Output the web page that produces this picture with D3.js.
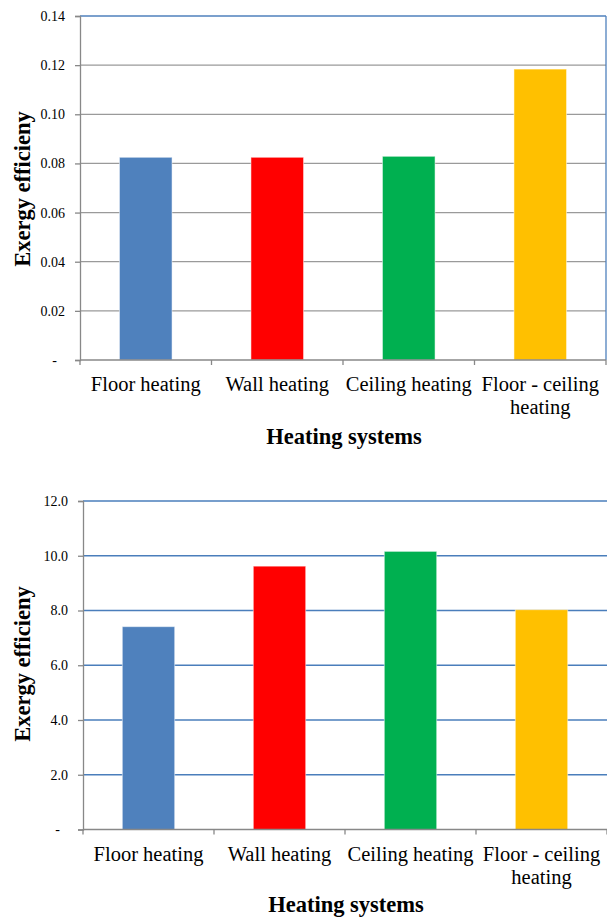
<!DOCTYPE html>
<html><head><meta charset="utf-8">
<script src="https://cdn.jsdelivr.net/npm/d3@7"></script>
<style>
body{margin:0;background:#fff;}
svg text{font-family:"Liberation Serif","DejaVu Serif","Times New Roman",serif !important;fill:#000;}
</style></head>
<body><svg id="c" width="607" height="917"></svg>
<script>
const categories = ["Floor heating","Wall heating","Ceiling heating","Floor - ceiling heating"];
const colors = ["#4f81bd","#ff0000","#00b050","#ffc000"];
const valuesTop = [0.0825,0.0825,0.0829,0.1184];
const valuesBottom = [7.41,9.62,10.16,8.03];
const ticksTop = [0,0.02,0.04,0.06,0.08,0.10,0.12,0.14];
const ticksBottom = [0,2,4,6,8,10,12];
const yTitle = "Exergy efficieny";
const xTitle = "Heating systems";

const svg = d3.select("#c");

function draw(cfg){
  const {x0,x1,y0,y1,vals,ticks,fmt,gridColor,topColor,rightBorder,labY,titleY,yTitleY,labelRight} = cfg;
  const g = svg.append("g");
  const x = d3.scaleBand().domain(categories).range([x0,x1]).paddingInner(0).paddingOuter(0);
  const y = d3.scaleLinear().domain([0,d3.max(ticks)]).range([y1,y0]);
  g.selectAll("line.grid").data(ticks.filter(t=>t>0)).join("line")
    .attr("x1",x0).attr("x2",x1).attr("y1",d=>y(d)).attr("y2",d=>y(d))
    .attr("stroke",d=> d===d3.max(ticks)?topColor:gridColor).attr("stroke-width",1.3);
  if(rightBorder){
    g.append("line").attr("x1",x1).attr("x2",x1).attr("y1",y0).attr("y2",y1)
      .attr("stroke",topColor).attr("stroke-width",1.3);
  }
  const bw = x.bandwidth()*0.4;
  g.selectAll("rect.bar").data(vals).join("rect")
    .attr("x",(d,i)=>x(categories[i])+x.bandwidth()/2-bw/2)
    .attr("width",bw)
    .attr("y",d=>y(d)).attr("height",d=>y1-y(d))
    .attr("fill",(d,i)=>colors[i]).attr("stroke","rgba(255,255,255,0.5)").attr("stroke-width",1);
  const ya = d3.axisLeft(y).tickValues(ticks).tickSize(5).tickFormat(d=>d===0?"-":fmt(d));
  const yg = g.append("g").attr("transform",`translate(${x0},0)`).call(ya).attr("font-family",null);
  yg.select(".domain").attr("stroke","#888").attr("stroke-width",1.3);
  yg.selectAll(".tick line").attr("stroke","#888").attr("stroke-width",1.3);
  yg.selectAll(".tick text").attr("font-size","14px").attr("x",-labelRight).attr("fill","#000");
  yg.selectAll(".tick").filter(d=>d===0).select("text").attr("x",-labelRight-8);
  const xb = [x0].concat(categories.map(c=>x(c)+x.bandwidth()));
  g.append("line").attr("x1",x0).attr("x2",x1).attr("y1",y1).attr("y2",y1).attr("stroke","#888").attr("stroke-width",1.3);
  g.selectAll("line.xt").data(xb).join("line")
    .attr("x1",d=>d).attr("x2",d=>d).attr("y1",y1).attr("y2",y1+5).attr("stroke","#888").attr("stroke-width",1.3);
  const lines = {"Floor - ceiling heating":["Floor - ceiling","heating"]};
  categories.forEach(c=>{
    const ls = lines[c]||[c];
    const t = g.append("text").attr("text-anchor","middle").attr("font-size","20.5px")
      .attr("x",x(c)+x.bandwidth()/2).attr("y",labY);
    ls.forEach((l,i)=>t.append("tspan").attr("x",x(c)+x.bandwidth()/2).attr("dy",i?23:0).text(l));
  });
  g.append("text").attr("text-anchor","middle").attr("font-size","22.5px").attr("font-weight","bold")
    .attr("x",(x0+x1)/2+1).attr("y",titleY).text(xTitle);
  g.append("text").attr("text-anchor","middle").attr("font-size","22.5px").attr("font-weight","bold")
    .attr("transform",`translate(30,${yTitleY}) rotate(-90)`).text(yTitle);
}

draw({x0:80,x1:606,y0:16,y1:360,vals:valuesTop,ticks:ticksTop,fmt:d3.format(".2f"),
  gridColor:"#9a9a9a",topColor:"#4f81bd",rightBorder:true,labY:391,titleY:444,yTitleY:189,labelRight:15});
draw({x0:83,x1:607,y0:501,y1:829.5,vals:valuesBottom,ticks:ticksBottom,fmt:d3.format(".1f"),
  gridColor:"#4a7ebb",topColor:"#4a7ebb",rightBorder:false,labY:861,titleY:912,yTitleY:664,labelRight:15});
</script></body></html>
